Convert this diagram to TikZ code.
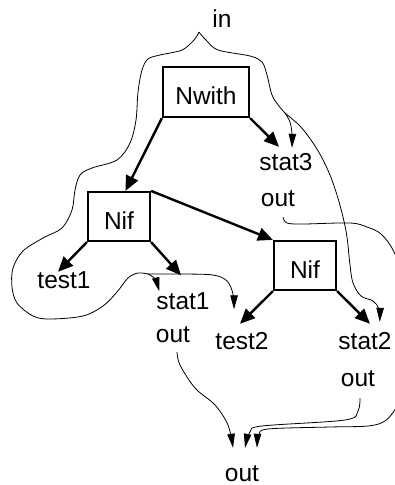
\documentclass[tikz,border=0pt]{standalone}
\usepackage{fontspec}
\setmainfont{Liberation Sans}
\usetikzlibrary{arrows.meta,calc}
\begin{document}
\begin{tikzpicture}[x=1pt,y=-1pt,
  lbl/.style={font=\fontsize{24.5}{29}\selectfont},
  box/.style={lbl,draw,line width=2.2pt,inner sep=0pt,text height=25.5pt,text depth=0pt},
  txt/.style={lbl,inner sep=0pt,anchor=base,text height=17.5pt,text depth=0pt},
  dep/.style={line width=2.4pt,-{Triangle[length=15pt,width=13pt]}},
  flowline/.style={line width=0.8pt},
  flow/.style={line width=0.8pt,-{Triangle[length=14pt,width=7.5pt]}},
  sm/.style={smooth,tension=0.55}
]
\useasboundingbox (0,0) rectangle (395,485);
% nodes
\node[txt] (in) at (222,27) {in};
\node[box,minimum width=86pt,minimum height=50pt] (nwith) at (206,92) {Nwith};
\node[txt] (stat3) at (286,170) {stat3};
\node[txt] (out3) at (278,206) {out};
\node[box,minimum width=62pt,minimum height=49pt] (nif1) at (119,216.5) {Nif};
\node[box,minimum width=62pt,minimum height=49pt] (nif2) at (305,265.5) {Nif};
\node[txt] (test1) at (64,288) {test1};
\node[txt] (stat1) at (183,309) {stat1};
\node[txt] (out1) at (173,342) {out};
\node[txt] (test2) at (242,349) {test2};
\node[txt] (stat2) at (365,349) {stat2};
\node[txt] (out2) at (358,386) {out};
\node[txt] (outb) at (242,481) {out};
% thick tree connectors
\draw[dep] (nwith.south west) -- ($(nif1.north west)!0.6!(nif1.north east)$);
\draw[dep] (nwith.south east) -- ([shift={(-7,-5.5)}]stat3.north);
\draw[dep] (nif1.north east) -- (nif2.north west);
\draw[dep] (nif1.south west) -- ([shift={(-6,1.5)}]test1.north);
\draw[dep] (nif1.south east) -- ([shift={(-2,-16)}]stat1.north);
\draw[dep] (nif2.south west) -- ([shift={(-2,-7.5)}]test2.north);
\draw[dep] (nif2.south east) -- ([shift={(5,-7.5)}]stat2.north);
% thin flow curves
\coordinate (cusp) at ([shift={(-23,5)}]in.south);
\coordinate (J) at (148,274);
\coordinate (K) at (285,113);
\draw[flowline] plot[sm] coordinates {(cusp) (194,40) (182,50) (160,55) (148,59) (142,70) (138,92) (136,120) (130,143) (117,160) (92,168) (80,175) (75,190) (72,210) (62,228) (43,238) (23,251) (13,268) (12,287) (17,303) (33,316) (50,319) (83,316) (103,306) (117,292) (128,278) (138,273) (J)};
\draw[flow] plot[sm] coordinates {(J) (155,279) ([shift={(3,0)}]stat1.north west)};
\draw[flow] plot[sm] coordinates {(J) (180,274) (213,275) (227,281) (233,294) ([shift={(-8,-22)}]test2.north)};
\draw[flowline] plot[sm] coordinates {(cusp) (206,40) (218,50) (250,56) (262,62) (267,75) (272,95) (279,106) (K)};
\draw[flow] plot[sm] coordinates {(K) (290,122) (292,134) ([shift={(6,-4.5)}]stat3.north)};
\draw[flow] plot[sm] coordinates {(K) (300,126) (311,140) (321,156) (330,175) (337,195) (343,217) (347,237) (350,265) (353,283) (361,296) (373,301) (379,309) ([shift={(-12,-9.5)}]stat2.north east)};
\begin{scope}
\clip (0,0) rectangle (395,485);
\draw[flow] plot[sm] coordinates {([shift={(5,11)}]out3.south) (287,223) (303,224) (350,223) (367,227) (381,234) (393,250) (404,280) (409,340) (405,390) (396,408) (385,421) (368,426) (330,427) (268,429) (259,435) ([shift={(15,-15.5)}]outb.north)};
\end{scope}
\draw[flow] plot[sm] coordinates {([shift={(2,12)}]out2.south) (358,411) (345,420) (262,426) (250,432) ([shift={(3,-15.5)}]outb.north)};
\draw[flow] plot[sm] coordinates {([shift={(4,10)}]out1.south) (180,365) (195,388) (215,405) (228,425) ([shift={(-9,-15.5)}]outb.north)};
\end{tikzpicture}
\end{document}
